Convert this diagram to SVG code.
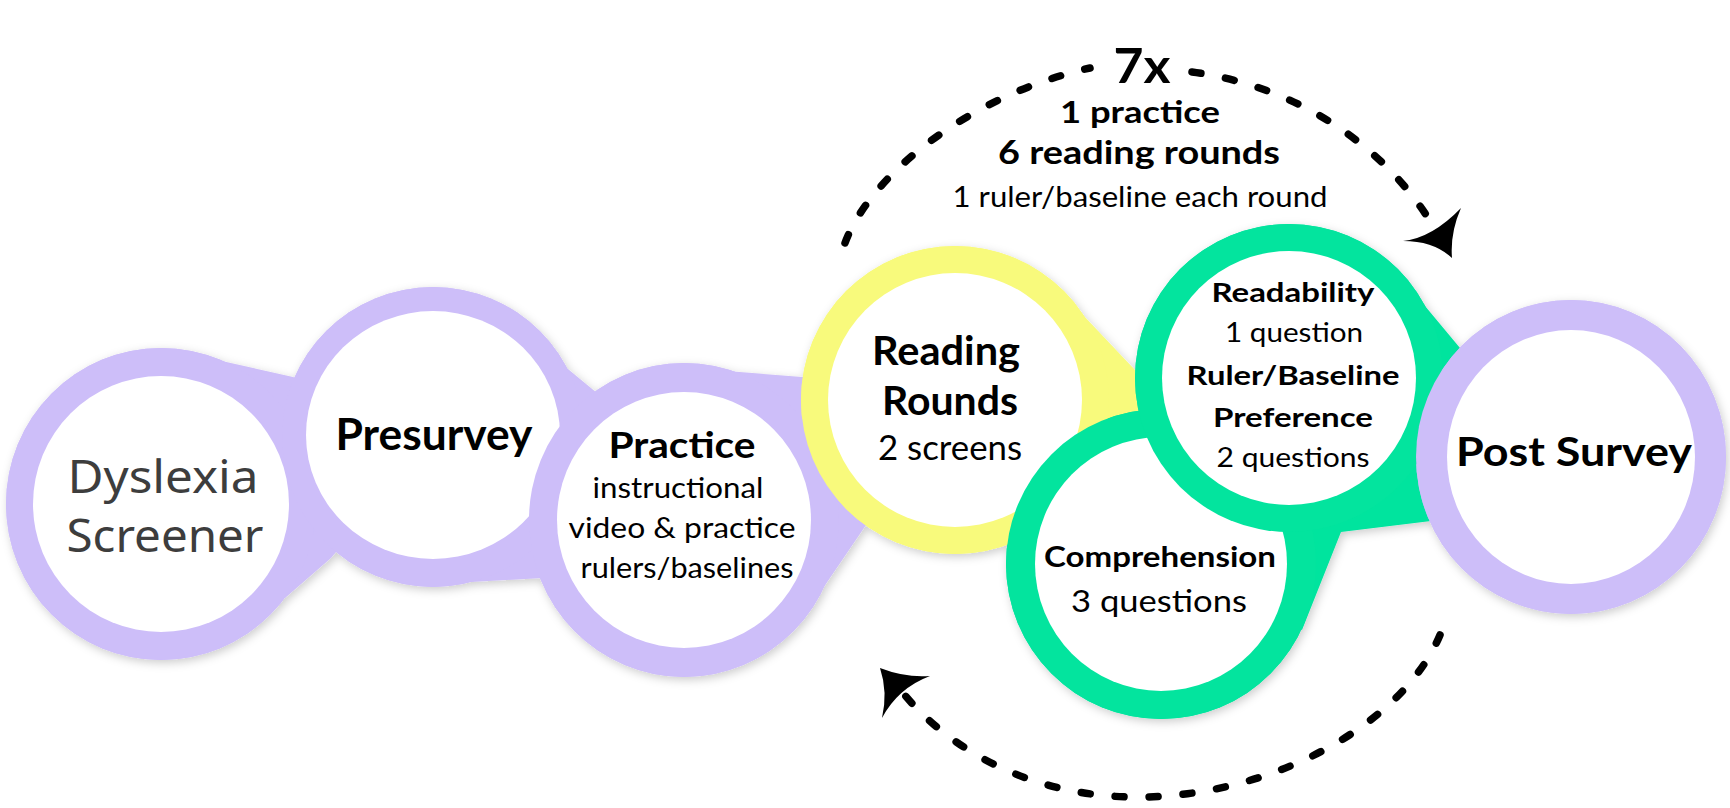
<svg xmlns="http://www.w3.org/2000/svg" width="1730" height="808" viewBox="0 0 1730 808">
  <defs>
    <filter id="shadow" x="-10%" y="-10%" width="120%" height="120%">
      <feDropShadow dx="2" dy="3" stdDeviation="5" flood-color="#000" flood-opacity="0.2"/>
    </filter>
    <style>
      .purple { fill: #CDBEF9; }
      .yellow { fill: #F8FA7C; }
      .green { fill: #03E49E; }
      .inner { fill: #FFFFFF; }
      .t { font-family: Lato, "Liberation Sans", sans-serif; fill: #000; text-anchor: middle; }
      .b { font-weight: 700; }
      .dys { font-family: "Noto Sans", "Open Sans", sans-serif; fill: #3d3d3d; text-anchor: middle; }
      .dash { fill: none; stroke: #000; stroke-width: 7.5; stroke-linecap: round; stroke-dasharray: 9 25; }
      .head { fill: #000; }
    </style>
  </defs>
  <rect width="1730" height="808" fill="#FFFFFF"/>

  <g id="links" filter="url(#shadow)">
    <polygon class="purple" points="168,349 293,377 433,437 331,558 285,598 161,504"/>
    <polygon class="purple" points="557,360 597,393 684,520 543,578 417,585 433,437"/>
    <polygon class="purple" points="663,366 802,377 955,400 866,525 800,622 684,520"/>
    <polygon class="yellow" points="1047,277 1135,370 1150,430 1020,525 955,400"/>
    <polygon class="green" points="1289,378 1420,300 1460,348 1431,521 1341,532 1302,630 1161,564"/>
    <ellipse class="purple" cx="161" cy="504" rx="155" ry="156"/>
    <ellipse class="purple" cx="433" cy="437" rx="151" ry="150"/>
    <ellipse class="purple" cx="684" cy="520" rx="155" ry="157"/>
    <ellipse class="yellow" cx="955" cy="400" rx="154" ry="154"/>
    <ellipse class="green" cx="1161" cy="564" rx="155" ry="155"/>
    <ellipse class="green" cx="1289" cy="378" rx="154" ry="154"/>
    <ellipse class="purple" cx="1571" cy="457" rx="155" ry="157"/>
  </g>

  <g id="node-dyslexia">
    <ellipse class="purple" cx="161" cy="504" rx="155" ry="156"/>
    <ellipse class="inner" cx="161" cy="504" rx="128" ry="128"/>
    <text class="dys" x="163" y="493" font-size="46" textLength="191" lengthAdjust="spacingAndGlyphs">Dyslexia</text>
    <text class="dys" x="165" y="552" font-size="46" textLength="197" lengthAdjust="spacingAndGlyphs">Screener</text>
  </g>

  <g id="node-presurvey">
    <ellipse class="purple" cx="433" cy="437" rx="151" ry="150"/>
    <ellipse class="inner" cx="433" cy="435" rx="127" ry="124"/>
    <text class="t b" x="434" y="450" font-size="43" textLength="197" lengthAdjust="spacingAndGlyphs">Presurvey</text>
  </g>

  <g id="node-practice">
    <ellipse class="purple" cx="684" cy="520" rx="155" ry="157"/>
    <ellipse class="inner" cx="684" cy="520" rx="127" ry="128"/>
    <text class="t b" x="682" y="458" font-size="37" textLength="147" lengthAdjust="spacingAndGlyphs">Practice</text>
    <text class="t" x="678" y="498" font-size="29" textLength="171" lengthAdjust="spacingAndGlyphs">instructional</text>
    <text class="t" x="682" y="538" font-size="29" textLength="227" lengthAdjust="spacingAndGlyphs">video &amp; practice</text>
    <text class="t" x="687" y="578" font-size="29" textLength="213" lengthAdjust="spacingAndGlyphs">rulers/baselines</text>
  </g>

  <g id="node-reading">
    <ellipse class="yellow" cx="955" cy="400" rx="154" ry="154"/>
    <ellipse class="inner" cx="955" cy="400" rx="127" ry="127"/>
    <text class="t b" x="946" y="365" font-size="40" textLength="148" lengthAdjust="spacingAndGlyphs">Reading</text>
    <text class="t b" x="950" y="415" font-size="40" textLength="136" lengthAdjust="spacingAndGlyphs">Rounds</text>
    <text class="t" x="950" y="460" font-size="35" textLength="144" lengthAdjust="spacingAndGlyphs">2 screens</text>
  </g>

  <g id="node-comprehension">
    <ellipse class="green" cx="1161" cy="564" rx="155" ry="155"/>
    <ellipse class="inner" cx="1161" cy="564" rx="126" ry="127"/>
    <text class="t b" x="1160" y="567" font-size="29" textLength="232" lengthAdjust="spacingAndGlyphs">Comprehension</text>
    <text class="t" x="1159" y="612" font-size="31" textLength="176" lengthAdjust="spacingAndGlyphs">3 questions</text>
  </g>

  <g id="node-readability">
    <ellipse class="green" cx="1289" cy="378" rx="154" ry="154"/>
    <ellipse class="inner" cx="1289" cy="378" rx="127" ry="127"/>
    <text class="t b" x="1293" y="302" font-size="27" textLength="163" lengthAdjust="spacingAndGlyphs">Readability</text>
    <text class="t" x="1294" y="342" font-size="27" textLength="138" lengthAdjust="spacingAndGlyphs">1 question</text>
    <text class="t b" x="1293" y="385" font-size="27" textLength="213" lengthAdjust="spacingAndGlyphs">Ruler/Baseline</text>
    <text class="t b" x="1293" y="427" font-size="27" textLength="160" lengthAdjust="spacingAndGlyphs">Preference</text>
    <text class="t" x="1293" y="467" font-size="27" textLength="153" lengthAdjust="spacingAndGlyphs">2 questions</text>
  </g>

  <g id="node-postsurvey">
    <ellipse class="purple" cx="1571" cy="457" rx="155" ry="157"/>
    <ellipse class="inner" cx="1571" cy="457" rx="124" ry="127"/>
    <text class="t b" x="1574" y="466" font-size="41" textLength="236" lengthAdjust="spacingAndGlyphs">Post Survey</text>
  </g>

  <g id="connectors">
    <path class="dash" d="M845,243 C870,175 970,95 1090,68"/>
    <path class="dash" d="M1192,72 C1290,85 1380,140 1432,224"/>
    <path class="head" d="M1403,241 Q1432,238 1461,208 Q1450,233 1452,258 Q1434,241 1403,241 Z"/>
    <path class="dash" d="M1440,635 C1400,730 1260,800 1130,797 C1030,795 950,750 903,693"/>
    <path class="head" d="M880,668 Q906,678 930,676 Q898,688 882,718 Q888,692 880,668 Z"/>
  </g>

  <g id="loop-label">
    <text class="t b" x="1142" y="83" font-size="48" textLength="57" lengthAdjust="spacingAndGlyphs">7x</text>
    <text class="t b" x="1140" y="123" font-size="31" textLength="160" lengthAdjust="spacingAndGlyphs">1 practice</text>
    <text class="t b" x="1139" y="164" font-size="32" textLength="282" lengthAdjust="spacingAndGlyphs">6 reading rounds</text>
    <text class="t" x="1140" y="207" font-size="29" textLength="375" lengthAdjust="spacingAndGlyphs">1 ruler/baseline each round</text>
  </g>
</svg>
